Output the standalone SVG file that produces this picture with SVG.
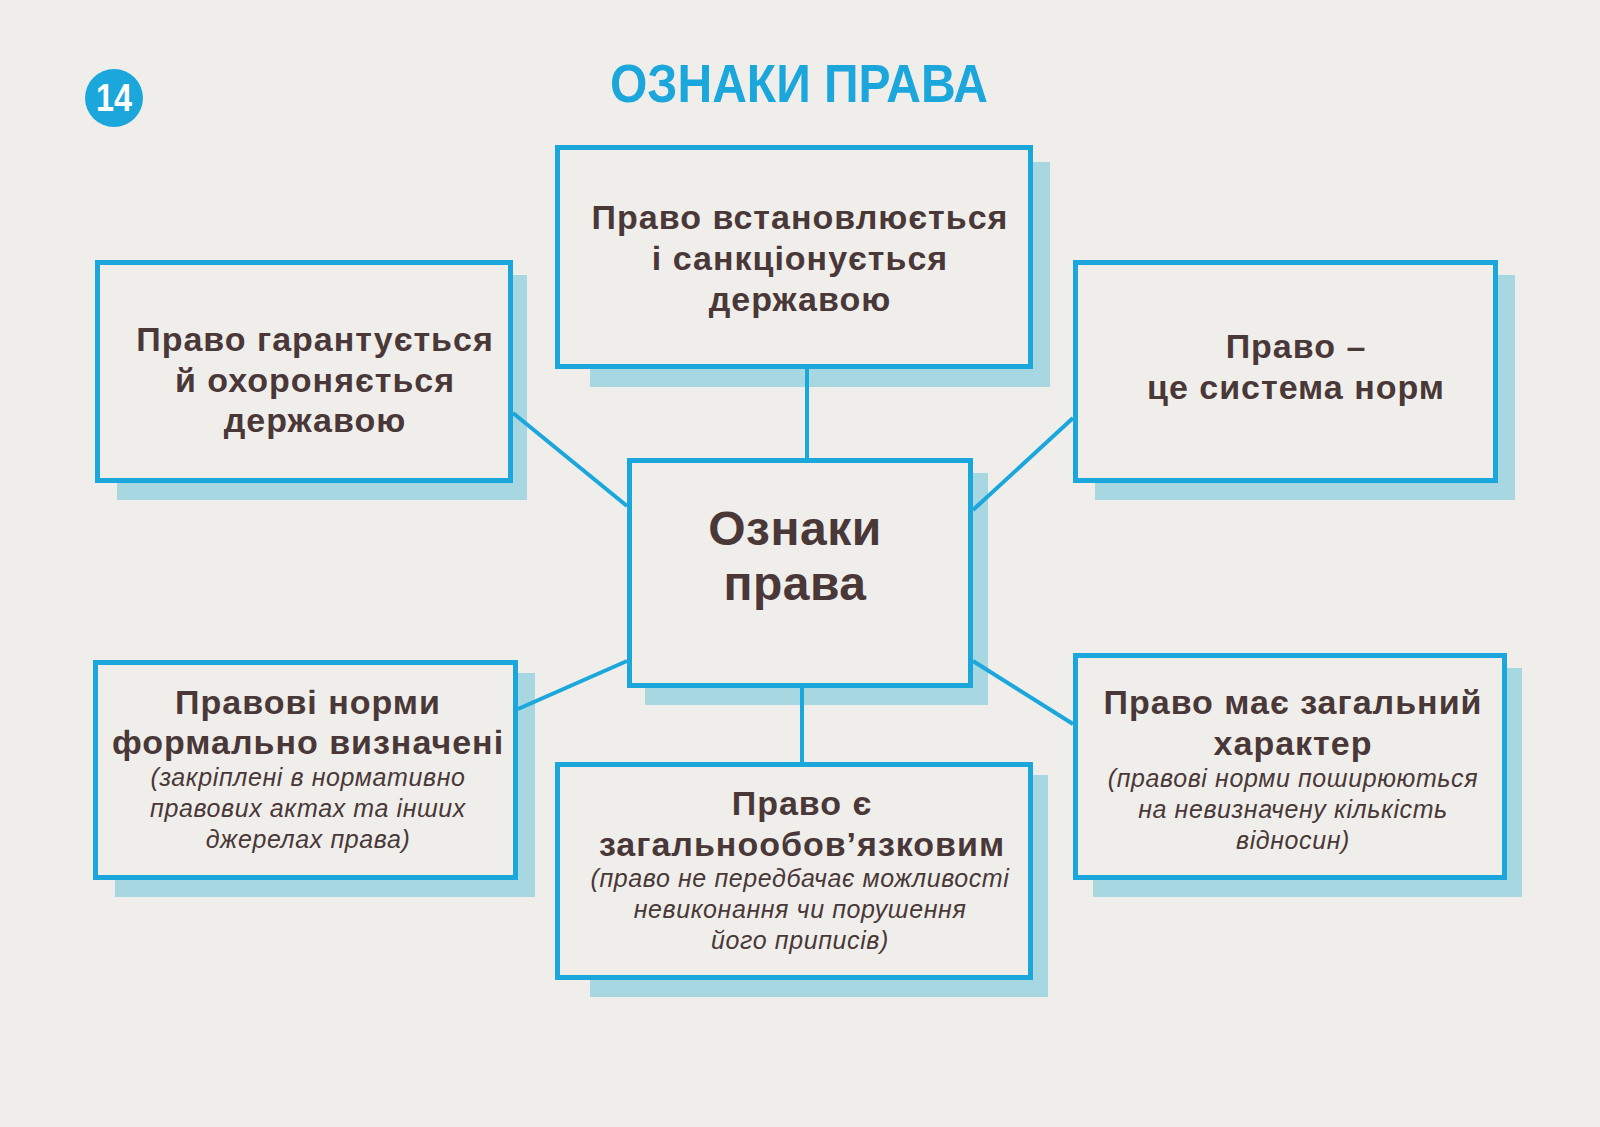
<svg xmlns="http://www.w3.org/2000/svg" width="1600" height="1127" viewBox="0 0 1600 1127">
<style>
.bg{fill:#efeeeb}
.sh{fill:#a7d7e0}
.box{fill:#efeeeb;stroke:#1ba6dc;stroke-width:5}
.con{stroke:#1ba6dc;stroke-width:4;fill:none}
.t{font-family:"Liberation Sans",Arial,sans-serif;font-weight:bold;font-size:34px;letter-spacing:1px;fill:#4a3838;text-anchor:middle}
.c{font-size:48px;letter-spacing:0.5px}
.i{font-family:"Liberation Sans",Arial,sans-serif;font-style:italic;font-size:25px;letter-spacing:0.6px;fill:#4a3838;text-anchor:middle}
.title{font-family:"Liberation Sans",Arial,sans-serif;font-weight:bold;font-size:54px;fill:#1ba6dc;text-anchor:middle}
</style>
<rect class="bg" x="0" y="0" width="1600" height="1127"/>
<g id="header">
<circle cx="114" cy="98" r="29" fill="#1ba6dc"/>
<text x="114" y="111" font-family="Liberation Sans,Arial,sans-serif" font-weight="bold" font-size="38" fill="#ffffff" text-anchor="middle" textLength="36" lengthAdjust="spacingAndGlyphs">14</text>
<text class="title" x="799" y="102" textLength="378" lengthAdjust="spacingAndGlyphs">ОЗНАКИ ПРАВА</text>
</g>
<g id="node-top">
<rect class="sh" x="590" y="162" width="460" height="225"/>
<rect class="box" x="557.5" y="147.5" width="473" height="219"/>
<text class="t" x="800" y="229">Право встановлюється</text>
<text class="t" x="800" y="270">і санкціонується</text>
<text class="t" x="800" y="311">державою</text>
</g>
<g id="node-top-left">
<rect class="sh" x="117" y="275" width="410" height="225"/>
<rect class="box" x="97.5" y="262.5" width="413" height="218"/>
<text class="t" x="315" y="351">Право гарантується</text>
<text class="t" x="315" y="392">й охороняється</text>
<text class="t" x="315" y="432">державою</text>
</g>
<g id="node-top-right">
<rect class="sh" x="1095" y="275" width="420" height="225"/>
<rect class="box" x="1075.5" y="262.5" width="420" height="218"/>
<text class="t" x="1296" y="358">Право –</text>
<text class="t" x="1296" y="399">це система норм</text>
</g>
<g id="node-center">
<rect class="sh" x="645" y="473" width="343" height="232"/>
<rect class="box" x="629.5" y="460.5" width="341" height="225"/>
<text class="t c" x="795" y="545">Ознаки</text>
<text class="t c" x="795" y="600">права</text>
</g>
<g id="node-bottom-left">
<rect class="sh" x="115" y="673" width="420" height="224"/>
<rect class="box" x="95.5" y="662.5" width="420" height="215"/>
<text class="t" x="308" y="714">Правові норми</text>
<text class="t" x="308" y="754">формально визначені</text>
<text class="i" x="308" y="786">(закріплені в нормативно</text>
<text class="i" x="308" y="817">правових актах та інших</text>
<text class="i" x="308" y="848">джерелах права)</text>
</g>
<g id="node-bottom-center">
<rect class="sh" x="590" y="775" width="458" height="222"/>
<rect class="box" x="557.5" y="764.5" width="473" height="213"/>
<text class="t" x="802" y="815">Право є</text>
<text class="t" x="802" y="856">загальнообов’язковим</text>
<text class="i" x="800" y="887">(право  не передбачає можливості</text>
<text class="i" x="800" y="918">невиконання чи порушення</text>
<text class="i" x="800" y="949">його приписів)</text>
</g>
<g id="node-bottom-right">
<rect class="sh" x="1093" y="668" width="429" height="229"/>
<rect class="box" x="1075.5" y="655.5" width="429" height="222"/>
<text class="t" x="1293" y="714">Право має загальний</text>
<text class="t" x="1293" y="755">характер</text>
<text class="i" x="1293" y="787">(правові норми поширюються</text>
<text class="i" x="1293" y="818">на невизначену кількість</text>
<text class="i" x="1293" y="849">відносин)</text>
</g>
<g id="connectors">
<line class="con" x1="807" y1="369" x2="807" y2="458"/>
<line class="con" x1="802" y1="688" x2="802" y2="762"/>
<line class="con" x1="513" y1="413" x2="627" y2="506"/>
<line class="con" x1="973" y1="510" x2="1073" y2="418"/>
<line class="con" x1="518" y1="709" x2="627" y2="661"/>
<line class="con" x1="973" y1="661" x2="1073" y2="724"/>
</g>
</svg>
